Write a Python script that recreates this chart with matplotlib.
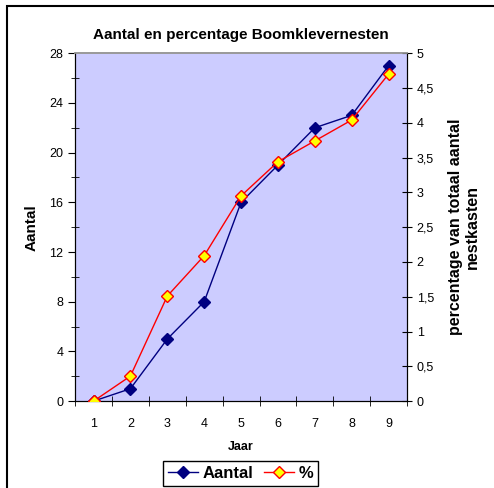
import matplotlib
matplotlib.use("Agg")
import matplotlib.pyplot as plt
from matplotlib.patches import Rectangle
from matplotlib.ticker import MultipleLocator, FuncFormatter

plt.rcParams["font.family"] = ["Liberation Sans", "DejaVu Sans"]

jaar = [1, 2, 3, 4, 5, 6, 7, 8, 9]
aantal = [0, 1, 5, 8, 16, 19, 22, 23, 27]
percentage = [0, 0.36, 1.51, 2.09, 2.95, 3.44, 3.74, 4.04, 4.70]

fig = plt.figure(figsize=(4.94, 4.88), dpi=100)
ax = fig.add_axes([0.152, 0.178, 0.672, 0.713])
ax.set_facecolor("#ccccff")

line1, = ax.plot(jaar, aantal, color="#000080", lw=1, marker="D",
                 markersize=6, markerfacecolor="#000080",
                 markeredgecolor="#000080", zorder=3)
ax.set_xlim(0.5, 9.5)
ax.set_ylim(0, 28)
ax.yaxis.set_major_locator(MultipleLocator(4))
ax.yaxis.set_minor_locator(MultipleLocator(2))
ax.set_xticks(jaar)
ax.xaxis.set_minor_locator(MultipleLocator(1, offset=0.5))
ax.tick_params(axis="x", which="major", length=0, pad=12, labelsize=9)
ax.tick_params(axis="x", which="minor", direction="inout", length=7)
ax.tick_params(axis="y", which="major", direction="out", length=5, labelsize=9)
ax.tick_params(axis="y", which="minor", direction="inout", length=6)

ax2 = ax.twinx()
line2, = ax2.plot(jaar, percentage, color="#ff0000", lw=1, marker="D",
                  markersize=6, markerfacecolor="#ffff00",
                  markeredgecolor="#ff0000", zorder=4)
ax2.set_ylim(0, 5)
ax2.yaxis.set_major_locator(MultipleLocator(0.5))
ax2.yaxis.set_major_formatter(
    FuncFormatter(lambda v, p: f"{v:g}".replace(".", ",")))
ax2.tick_params(axis="y", direction="inout", length=7, labelsize=9)

for a in (ax, ax2):
    a.spines["top"].set_color("#999999")
    a.spines["top"].set_linewidth(1.2)
    a.spines["left"].set_color("black")
    a.spines["right"].set_color("black")
    a.spines["bottom"].set_color("black")

ax.set_title("Aantal en percentage Boomklevernesten", fontsize=11,
             fontweight="bold", pad=10)
ax.set_xlabel("Jaar", fontsize=9, fontweight="bold", labelpad=8)
ax.set_ylabel("Aantal", fontsize=11, fontweight="bold", labelpad=8)
ax2.set_ylabel("percentage van totaal aantal\nnestkasten", fontsize=11.5,
               fontweight="bold", labelpad=10, rotation=90)

fig.legend([line1, line2], ["Aantal", "%"], loc="upper center",
           bbox_to_anchor=(0.487, 0.072), ncol=2, frameon=True,
           fancybox=False, edgecolor="black", framealpha=1,
           prop={"weight": "bold", "size": 12}, handlelength=1.8,
           columnspacing=0.6, handletextpad=0.3, borderpad=0.3)

fig.patches.append(Rectangle((7 / 494, -0.1), 1.0, 1.1 - 6 / 488,
                             transform=fig.transFigure, fill=False,
                             edgecolor="black", lw=1.5))

fig.savefig("out.png", dpi=100)
